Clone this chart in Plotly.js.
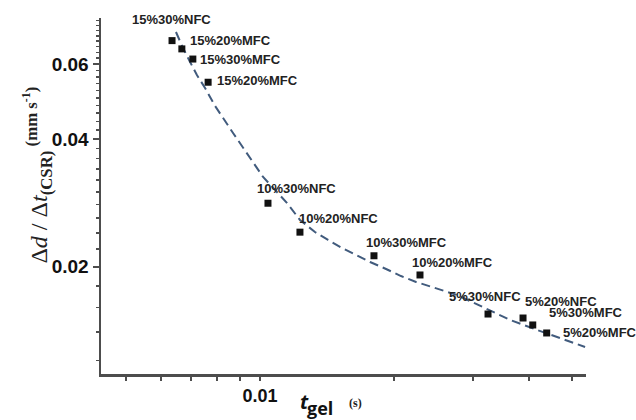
<!DOCTYPE html>
<html>
<head>
<meta charset="utf-8">
<script src="https://cdn.plot.ly/plotly-3.0.1.min.js"></script>
<style>
html,body{margin:0;padding:0;background:#fff;}
#chart{width:636px;height:420px;}
</style>
</head>
<body>
<div id="chart"></div>
<script>
// ---- data ----
var sampleLabels = ['15%30%NFC','15%20%MFC','15%30%MFC','15%20%MFC',
                    '10%30%NFC','10%20%NFC','10%30%MFC','10%20%MFC',
                    '5%30%NFC','5%20%NFC','5%30%MFC','5%20%MFC'];
var tGel = [0.00635,0.00668,0.00707,0.00765,
            0.01042,0.01229,0.01801,0.02284,
            0.03245,0.03888,0.04088,0.04393];
var rateCSR = [0.0682,0.0652,0.0617,0.0544,
               0.0282,0.0241,0.0212,0.0191,
               0.01545,0.01512,0.01456,0.01394];
// dashed fitted curve
var fitT = [0.00648,0.00672,0.00697,0.00722,0.00753,0.00793,0.00870,0.00965,
            0.01016,0.01086,0.01150,0.01229,0.01328,0.01421,0.01527,0.01642,
            0.01765,0.01917,0.02071,0.02238,0.02468,0.02765,0.03196,0.03636,
            0.04181,0.04707,0.05356];
var fitRate = [0.07147,0.06552,0.06072,0.05658,0.05273,0.04781,0.04130,0.03508,
               0.03252,0.03014,0.02823,0.02575,0.02412,0.02310,0.02212,0.02129,
               0.02049,0.01973,0.01899,0.01839,0.01780,0.01713,0.01596,0.01496,
               0.01417,0.01357,0.01292];
var yTickVals = [0.02,0.04,0.06];
var yTickText = ['0.02','0.04','0.06'];
var yMinorVals = [0.012,0.014,0.016,0.018,0.022,0.024,0.026,0.028,0.030,0.032,0.034,
                  0.036,0.038,0.042,0.044,0.046,0.048,0.050,0.052,0.054,0.056,0.058,
                  0.062,0.064,0.066,0.068,0.070,0.072,0.074,0.076];
var xTickVals = [0.01];
var xTickText = ['0.01'];
var xMinorVals = [0.005,0.006,0.007,0.008,0.009,0.02,0.03,0.04,0.05];

// ---- label placement styles (pixel offsets from each point) ----
var labelStyle = [
  {xs:-42,ys:21},{xs:6,ys:8},{xs:5,ys:0},{xs:7,ys:2},
  {xs:-13,ys:15},{xs:-3,ys:14},{xs:-10,ys:13},{xs:-10,ys:12},
  {xs:-41,ys:18},{xs:0,ys:17},{xs:14,ys:12},{xs:14,ys:0}
];

var traces = [
  {x: fitT, y: fitRate, mode:'lines', type:'scatter',
   line:{color:'#415b7d', width:2, dash:'9px,5px'}, hoverinfo:'skip'},
  {x: tGel, y: rateCSR, mode:'markers', type:'scatter',
   marker:{symbol:'square', size:7, color:'#111'}}
];

var annotations = sampleLabels.map(function(lab,i){
  return {x: Math.log10(tGel[i]), y: Math.log10(rateCSR[i]), xref:'x', yref:'y',
          text:'<b>'+lab+'</b>', showarrow:false, xanchor:'left', yanchor:'middle',
          xshift: labelStyle[i].xs, yshift: labelStyle[i].ys,
          font:{family:'Liberation Sans, Arial, sans-serif', size:13, color:'#222'}};
});
// y-axis title
annotations.push({
  xref:'paper', yref:'paper', x:-0.13, y:0.56, textangle:-90, showarrow:false,
  xanchor:'center', yanchor:'middle',
  text:'Δ<i>d</i> / Δ<i>t</i><sub><b>(CSR)</b></sub><sup><b> (mm s<sup>-1</sup>)</b></sup>',
  font:{family:'Liberation Serif, Times New Roman, serif', size:24, color:'#222'}
});
// x-axis title pieces
annotations.push({
  xref:'paper', yref:'paper', x:0.406, y:-0.035, showarrow:false,
  xanchor:'left', yanchor:'top',
  text:'<b><i>t</i></b>',
  font:{family:'Open Sans, Liberation Sans, sans-serif', size:20, color:'#111'}
});
annotations.push({
  xref:'paper', yref:'paper', x:0.421, y:-0.056, showarrow:false,
  xanchor:'left', yanchor:'top',
  text:'<b>gel</b>',
  font:{family:'Open Sans, Liberation Sans, sans-serif', size:18, color:'#111'}
});
annotations.push({
  xref:'paper', yref:'paper', x:0.507, y:-0.055, showarrow:false,
  xanchor:'left', yanchor:'top',
  text:'<b>(s)</b>',
  font:{family:'Liberation Serif, Times New Roman, serif', size:12, color:'#222'}
});

var axisLine = '#4d4d4d';
var layout = {
  width:636, height:420,
  margin:{l:101, r:50, t:18, b:46},
  paper_bgcolor:'#fff', plot_bgcolor:'#fff',
  showlegend:false,
  xaxis:{type:'log', range:[-2.3565,-1.2691], showgrid:false, zeroline:false,
         showline:true, linecolor:axisLine, linewidth:2.5, mirror:false,
         tickmode:'array', tickvals:xTickVals, ticktext:xTickText,
         ticks:'outside', ticklen:4, tickwidth:2, tickcolor:axisLine,
         minor:{tickmode:'array', tickvals:xMinorVals, ticks:'outside', ticklen:4, tickwidth:2, tickcolor:axisLine},
         tickfont:{family:'Liberation Sans, Arial, sans-serif', size:18, color:'#111', weight:'bold'}},
  yaxis:{type:'log', range:[-1.95251,-1.11289], showgrid:false, zeroline:false,
         showline:true, linecolor:axisLine, linewidth:2.5, mirror:false,
         tickmode:'array', tickvals:yTickVals, ticktext:yTickText,
         ticks:'outside', ticklen:6, tickwidth:2, tickcolor:axisLine,
         minor:{tickmode:'array', tickvals:yMinorVals, ticks:'outside', ticklen:3, tickwidth:1.5, tickcolor:axisLine},
         tickfont:{family:'Liberation Sans, Arial, sans-serif', size:19, color:'#111', weight:'bold'}},
  annotations: annotations
};

Plotly.newPlot('chart', traces, layout, {displayModeBar:false, staticPlot:true});
</script>
</body>
</html>
